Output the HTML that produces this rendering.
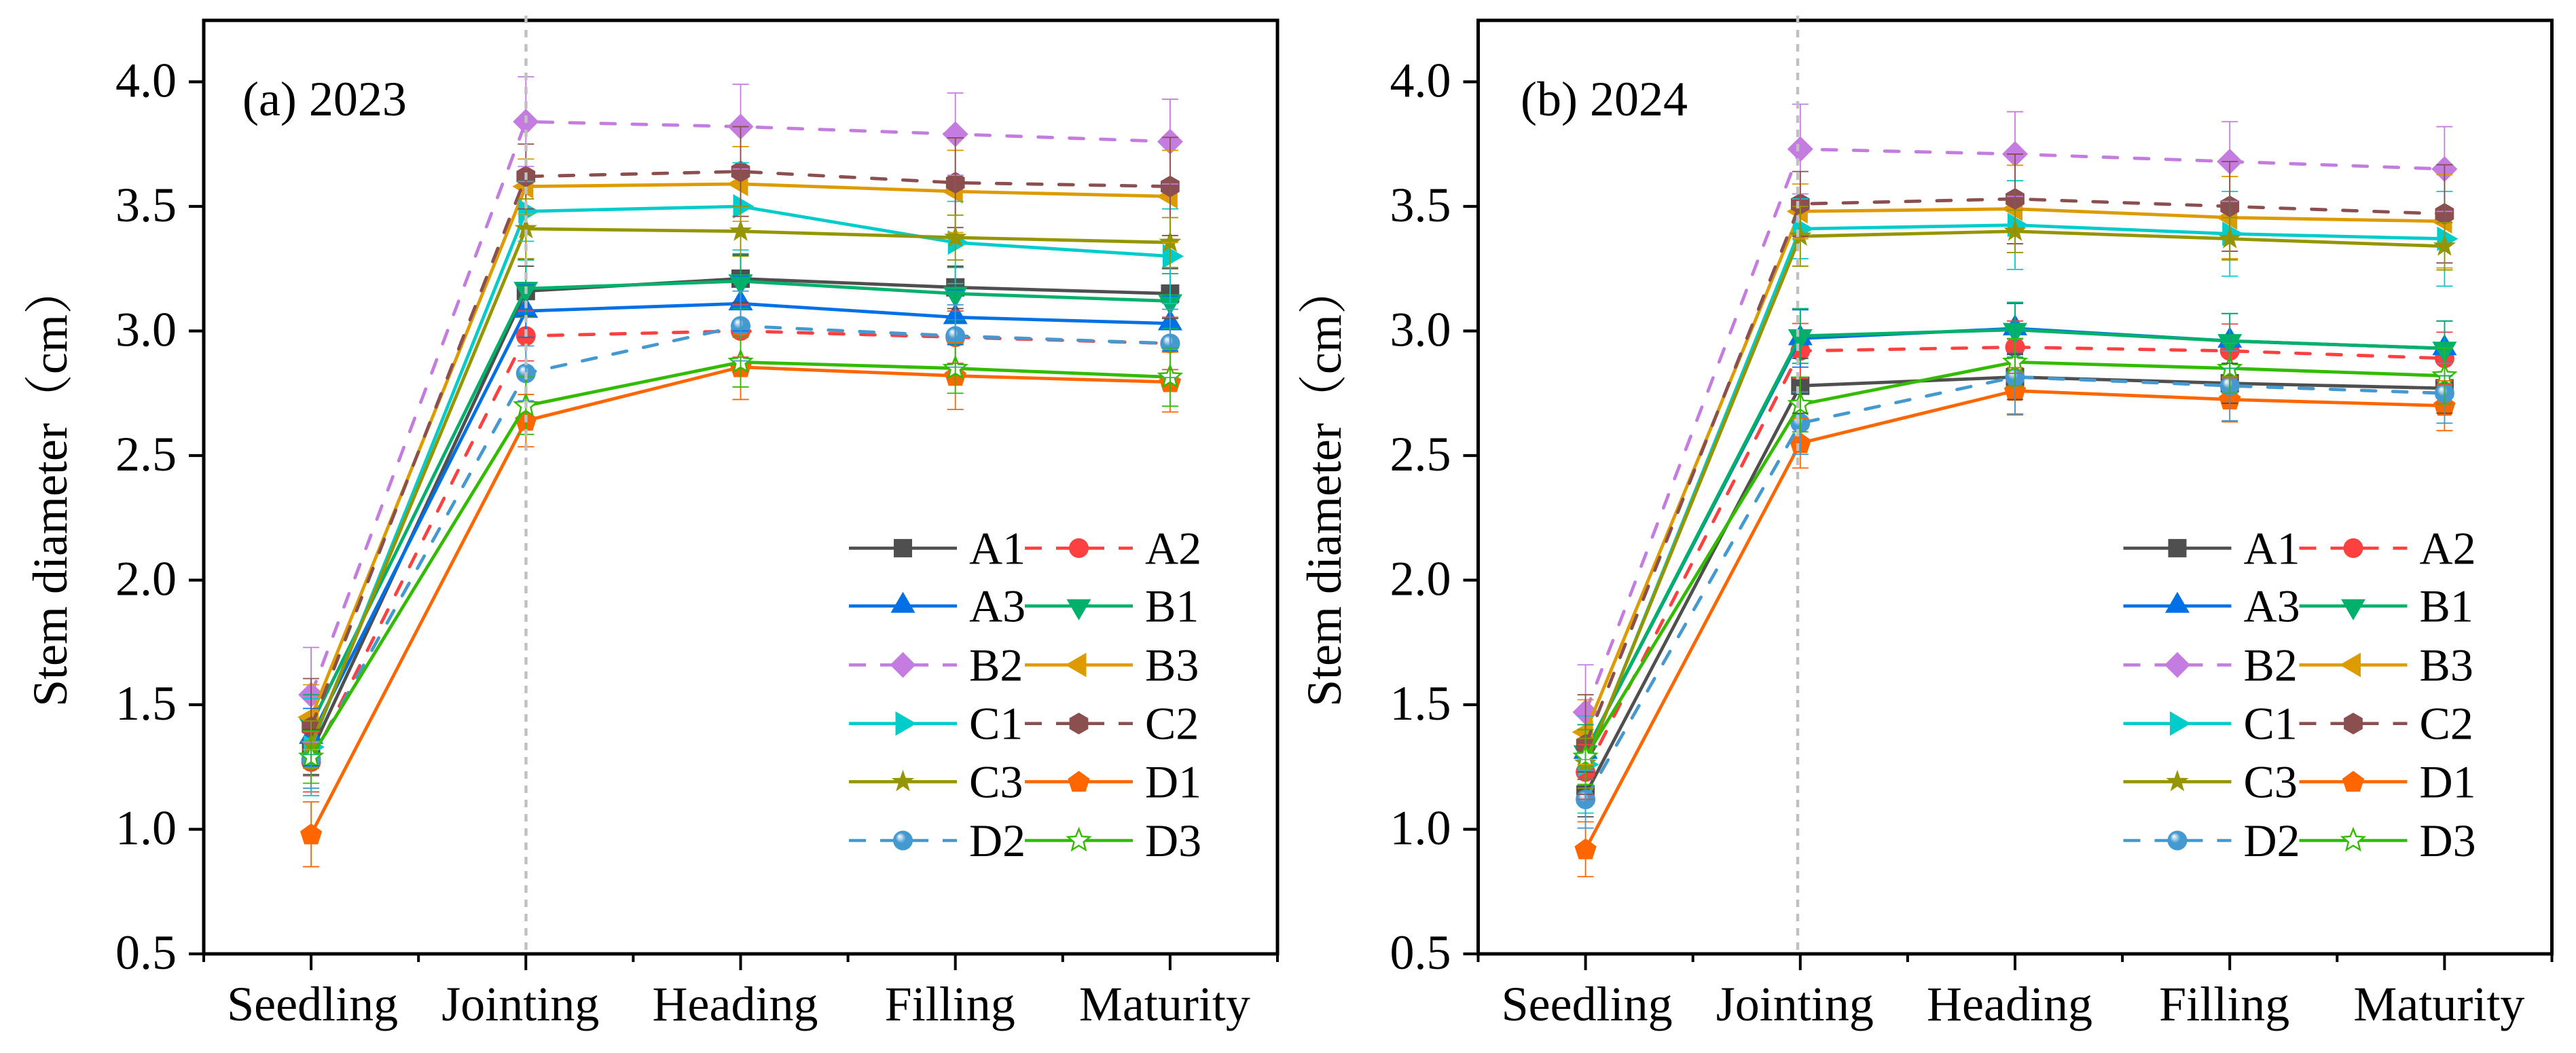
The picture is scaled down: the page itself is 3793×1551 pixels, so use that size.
<!DOCTYPE html>
<html lang="en">
<head>
<meta charset="utf-8">
<title>Stem diameter by growth stage, 2023 and 2024</title>
<style>
html,body{margin:0;padding:0;background:#fff;width:3793px;height:1551px;overflow:hidden}
svg{display:block}
text{font-family:"Liberation Serif","Noto Serif CJK SC",serif;fill:#000}
</style>
</head>
<body>
<svg id="chart" xmlns="http://www.w3.org/2000/svg" width="3793" height="1551" viewBox="0 0 3793 1551">
<defs>
<radialGradient id="sphere" cx="0.5" cy="0.5" r="0.62" fx="0.32" fy="0.28">
<stop offset="0" stop-color="#ffffff"/>
<stop offset="0.16" stop-color="#bcd9ee"/>
<stop offset="0.42" stop-color="#4499d0"/>
<stop offset="1" stop-color="#4499d0"/>
</radialGradient>
</defs>
<rect x="0" y="0" width="3793" height="1551" fill="#fff"/>
<g id="panel-a">
<text x="357" y="170" font-size="72">(a) 2023</text>
<text transform="translate(98,1041) rotate(-90)" font-size="72">Stem diameter<tspan>（cm）</tspan></text>
</g>
<g id="panel-b">
<text x="2239" y="170" font-size="72">(b) 2024</text>
<text transform="translate(1974,1041) rotate(-90)" font-size="72">Stem diameter<tspan>（cm）</tspan></text>
</g>
</svg>
<script>
const categories = ['Seedling', 'Jointing', 'Heading', 'Filling', 'Maturity'];
const yTickLabels = ['0.5', '1.0', '1.5', '2.0', '2.5', '3.0', '3.5', '4.0'];
const seriesNames = ['A1', 'A2', 'A3', 'B1', 'B2', 'B3', 'C1', 'C2', 'C3', 'D1', 'D2', 'D3'];

const a1Means2023 = [1.31, 3.16, 3.21, 3.175, 3.15];
const a1Errors2023 = [0.09, 0.10, 0.095, 0.085, 0.10];
const a2Means2023 = [1.27, 2.98, 3.00, 2.975, 2.95];
const a2Errors2023 = [0.12, 0.10, 0.105, 0.105, 0.105];
const a3Means2023 = [1.37, 3.08, 3.11, 3.055, 3.03];
const a3Errors2023 = [0.115, 0.105, 0.11, 0.11, 0.11];
const b1Means2023 = [1.42, 3.17, 3.20, 3.15, 3.12];
const b1Errors2023 = [0.12, 0.115, 0.11, 0.105, 0.11];
const b2Means2023 = [1.54, 3.84, 3.82, 3.79, 3.76];
const b2Errors2023 = [0.19, 0.18, 0.17, 0.165, 0.17];
const b3Means2023 = [1.45, 3.58, 3.59, 3.56, 3.54];
const b3Errors2023 = [0.13, 0.11, 0.15, 0.165, 0.185];
const c1Means2023 = [1.33, 3.48, 3.50, 3.355, 3.30];
const c1Errors2023 = [0.195, 0.12, 0.175, 0.165, 0.19];
const c2Means2023 = [1.41, 3.62, 3.64, 3.595, 3.58];
const c2Errors2023 = [0.195, 0.13, 0.18, 0.18, 0.197];
const c3Means2023 = [1.34, 3.41, 3.40, 3.375, 3.355];
const c3Errors2023 = [0.095, 0.12, 0.10, 0.09, 0.10];
const d1Means2023 = [0.98, 2.64, 2.855, 2.82, 2.795];
const d1Errors2023 = [0.13, 0.105, 0.13, 0.135, 0.12];
const d2Means2023 = [1.28, 2.83, 3.02, 2.98, 2.95];
const d2Errors2023 = [0.115, 0.11, 0.14, 0.125, 0.137];
const d3Means2023 = [1.29, 2.70, 2.875, 2.85, 2.815];
const d3Errors2023 = [0.105, 0.115, 0.10, 0.10, 0.117];

const a1Means2024 = [1.14, 2.78, 2.815, 2.79, 2.77];
const a1Errors2024 = [0.09, 0.11, 0.09, 0.08, 0.10];
const a2Means2024 = [1.23, 2.92, 2.935, 2.92, 2.89];
const a2Errors2024 = [0.11, 0.11, 0.105, 0.108, 0.105];
const a3Means2024 = [1.31, 2.97, 3.01, 2.96, 2.93];
const a3Errors2024 = [0.11, 0.115, 0.10, 0.11, 0.11];
const b1Means2024 = [1.31, 2.98, 3.005, 2.96, 2.93];
const b1Errors2024 = [0.11, 0.11, 0.11, 0.11, 0.11];
const b2Means2024 = [1.47, 3.73, 3.71, 3.68, 3.65];
const b2Errors2024 = [0.19, 0.18, 0.17, 0.16, 0.17];
const b3Means2024 = [1.39, 3.48, 3.49, 3.455, 3.44];
const b3Errors2024 = [0.13, 0.11, 0.175, 0.165, 0.187];
const c1Means2024 = [1.26, 3.41, 3.425, 3.39, 3.37];
const c1Errors2024 = [0.195, 0.12, 0.178, 0.17, 0.19];
const c2Means2024 = [1.34, 3.51, 3.53, 3.50, 3.47];
const c2Errors2024 = [0.20, 0.13, 0.18, 0.18, 0.197];
const c3Means2024 = [1.265, 3.38, 3.40, 3.37, 3.34];
const c3Errors2024 = [0.10, 0.12, 0.085, 0.085, 0.095];
const d1Means2024 = [0.92, 2.55, 2.76, 2.725, 2.70];
const d1Errors2024 = [0.11, 0.10, 0.093, 0.09, 0.10];
const d2Means2024 = [1.12, 2.63, 2.815, 2.78, 2.75];
const d2Errors2024 = [0.115, 0.125, 0.152, 0.14, 0.12];
const d3Means2024 = [1.29, 2.705, 2.875, 2.85, 2.82];
const d3Errors2024 = [0.11, 0.11, 0.095, 0.10, 0.112];

const means2023 = [a1Means2023, a2Means2023, a3Means2023, b1Means2023, b2Means2023, b3Means2023, c1Means2023, c2Means2023, c3Means2023, d1Means2023, d2Means2023, d3Means2023];
const errors2023 = [a1Errors2023, a2Errors2023, a3Errors2023, b1Errors2023, b2Errors2023, b3Errors2023, c1Errors2023, c2Errors2023, c3Errors2023, d1Errors2023, d2Errors2023, d3Errors2023];
const means2024 = [a1Means2024, a2Means2024, a3Means2024, b1Means2024, b2Means2024, b3Means2024, c1Means2024, c2Means2024, c3Means2024, d1Means2024, d2Means2024, d3Means2024];
const errors2024 = [a1Errors2024, a2Errors2024, a3Errors2024, b1Errors2024, b2Errors2024, b3Errors2024, c1Errors2024, c2Errors2024, c3Errors2024, d1Errors2024, d2Errors2024, d3Errors2024];

const seriesColors = ['#4f4f4f', '#ff4040', '#0070e6', '#00b06b', '#c47ce0', '#dd9b00', '#00cccc', '#8b4f50', '#959500', '#ff6600', '#4499d0', '#33bb00'];
const seriesDashed = [false, true, false, false, true, false, false, true, false, false, true, false];
const seriesMarkers = ['square', 'circle', 'up', 'down', 'diamond', 'left', 'right', 'hexagon', 'star', 'pentagon', 'sphere', 'openstar'];

const SVG_NS = 'http://www.w3.org/2000/svg';
const PLOT_TOP = 30;
const PLOT_BOTTOM = 1405;
const PLOT_WIDTH = 1581;
const CATEGORY_STEP = 316.2;
const Y_MIN = 0.5;
const PX_PER_UNIT = 367;

function make(tag, attrs, parent) {
  const node = document.createElementNS(SVG_NS, tag);
  for (const key in attrs) node.setAttribute(key, attrs[key]);
  parent.appendChild(node);
  return node;
}
function yScale(value) { return PLOT_BOTTOM - (value - Y_MIN) * PX_PER_UNIT; }
function xScale(left, index) { return left + CATEGORY_STEP / 2 + index * CATEGORY_STEP; }

function regularPoints(cx, cy, radius, count, startDeg) {
  const pts = [];
  for (let k = 0; k < count; k++) {
    const a = (startDeg + k * 360 / count) * Math.PI / 180;
    pts.push((cx + radius * Math.cos(a)).toFixed(2) + ',' + (cy + radius * Math.sin(a)).toFixed(2));
  }
  return pts.join(' ');
}
function starPoints(cx, cy, outer, inner) {
  const pts = [];
  for (let k = 0; k < 10; k++) {
    const a = (-90 + k * 36) * Math.PI / 180;
    const r = k % 2 ? inner : outer;
    pts.push((cx + r * Math.cos(a)).toFixed(2) + ',' + (cy + r * Math.sin(a)).toFixed(2));
  }
  return pts.join(' ');
}
function offsetPoints(cx, cy, offsets) {
  return offsets.map(function (p) { return (cx + p[0]) + ',' + (cy + p[1]); }).join(' ');
}
function drawMarker(kind, cx, cy, color, parent) {
  if (kind === 'square') return make('rect', { x: cx - 13.5, y: cy - 13.5, width: 27, height: 27, fill: color }, parent);
  if (kind === 'circle') return make('circle', { cx: cx, cy: cy, r: 14.5, fill: color }, parent);
  if (kind === 'sphere') return make('circle', { cx: cx, cy: cy, r: 14.5, fill: 'url(#sphere)' }, parent);
  if (kind === 'up') return make('polygon', { points: offsetPoints(cx, cy, [[0, -21], [18, 10], [-18, 10]]), fill: color }, parent);
  if (kind === 'down') return make('polygon', { points: offsetPoints(cx, cy, [[0, 21], [18, -10], [-18, -10]]), fill: color }, parent);
  if (kind === 'left') return make('polygon', { points: offsetPoints(cx, cy, [[-20, 0], [11, -18], [11, 18]]), fill: color }, parent);
  if (kind === 'right') return make('polygon', { points: offsetPoints(cx, cy, [[20, 0], [-11, -18], [-11, 18]]), fill: color }, parent);
  if (kind === 'diamond') return make('polygon', { points: offsetPoints(cx, cy, [[0, -19], [19, 0], [0, 19], [-19, 0]]), fill: color }, parent);
  if (kind === 'hexagon') return make('polygon', { points: regularPoints(cx, cy, 16, 6, -90), fill: color }, parent);
  if (kind === 'pentagon') return make('polygon', { points: regularPoints(cx, cy + 1, 17, 5, -90), fill: color }, parent);
  if (kind === 'star') return make('polygon', { points: starPoints(cx, cy, 17.5, 7), fill: color }, parent);
  return make('polygon', { points: starPoints(cx, cy, 17, 7.5), fill: '#fff', stroke: color, 'stroke-width': 2.4 }, parent);
}

function drawAxes(group, left) {
  const frame = make('rect', { x: left, y: PLOT_TOP, width: PLOT_WIDTH, height: PLOT_BOTTOM - PLOT_TOP, fill: 'none', stroke: '#000', 'stroke-width': 5 }, group);
  
  
  yTickLabels.forEach(function (label) {
    const y = yScale(parseFloat(label));
    const tick = make('line', { x1: left - 22, x2: left, y1: y, y2: y, stroke: '#000', 'stroke-width': 4.2 }, group);
    
    
    const text = make('text', { x: left - 40, y: y + 22, 'font-size': 72, 'text-anchor': 'end' }, group);
    
    
    text.textContent = label;
  });
  categories.forEach(function (label, i) {
    const x = xScale(left, i);
    const tick = make('line', { x1: x, x2: x, y1: PLOT_BOTTOM, y2: PLOT_BOTTOM + 24, stroke: '#000', 'stroke-width': 4 }, group);
    
    
    const nudge = i === 0 ? 2 : -8;
    const text = make('text', { x: x + nudge, y: 1503, 'font-size': 72, 'text-anchor': 'middle' }, group);
    
    
    text.textContent = label;
  });
  for (let k = 0; k <= categories.length; k++) {
    const x = left + k * CATEGORY_STEP;
    const minor = make('line', { x1: x, x2: x, y1: PLOT_BOTTOM, y2: PLOT_BOTTOM + 12, stroke: '#000', 'stroke-width': 4 }, group);
    
    
  }
}

function drawSeries(group, left, means) {
  means.forEach(function (values, s) {
    const color = seriesColors[s];
    const pts = values.map(function (v, i) { return xScale(left, i).toFixed(2) + ',' + yScale(v).toFixed(2); }).join(' ');
    const attrs = { points: pts, fill: 'none', stroke: color, 'stroke-width': 4.8, 'stroke-linejoin': 'round' };
    if (seriesDashed[s]) { attrs['stroke-dasharray'] = '21 25'; attrs['stroke-linecap'] = 'round'; }
    const line = make('polyline', attrs, group);
    
    
    values.forEach(function (v, i) {
      const marker = drawMarker(seriesMarkers[s], xScale(left, i), yScale(v), color, group);
      
      
    });
  });
}

function drawErrorBars(group, left, means, errors) {
  means.forEach(function (values, s) {
    const color = seriesColors[s];
    values.forEach(function (v, i) {
      const x = xScale(left, i);
      const hi = yScale(v + errors[s][i]);
      const lo = yScale(v - errors[s][i]);
      const stem = make('line', { x1: x, x2: x, y1: hi, y2: lo, stroke: color, 'stroke-width': 1.8 }, group);
      
      
      const capTop = make('line', { x1: x - 12, x2: x + 12, y1: hi, y2: hi, stroke: color, 'stroke-width': 1.8 }, group);
      
      
      const capLow = make('line', { x1: x - 12, x2: x + 12, y1: lo, y2: lo, stroke: color, 'stroke-width': 1.8 }, group);
      
      
    });
  });
}

function drawGuide(group, x) {
  const guide = make('line', { x1: x, x2: x, y1: 23, y2: PLOT_BOTTOM, stroke: '#c0c0c0', 'stroke-width': 4.4, 'stroke-dasharray': '11 10' }, group);
  
  
}

function drawLegend(group, left) {
  const rowYs = [807.4, 892.6, 979.4, 1065.7, 1151.4, 1238];
  seriesNames.forEach(function (name, s) {
    const col = s % 2;
    const rowY = rowYs[Math.floor(s / 2)];
    const x0 = left + (col === 0 ? 950 : 1209);
    const entry = make('g', {}, group);
    
    
    const attrs = { x1: x0, x2: x0 + 159, y1: rowY, y2: rowY, stroke: seriesColors[s], 'stroke-width': 4.6 };
    if (seriesDashed[s]) { attrs['stroke-dasharray'] = '25 21 25 21 25 21 25'; }
    const sample = make('line', attrs, entry);
    
    
    const marker = drawMarker(seriesMarkers[s], x0 + 79.5, rowY, seriesColors[s], entry);
    
    
    const label = make('text', { x: x0 + 177, y: rowY + 23, 'font-size': 68 }, entry);
    
    
    label.textContent = name;
  });
}

function drawPanel(groupId, left, guideX, means, errors) {
  const group = document.getElementById(groupId);
  drawSeries(group, left, means);
  drawErrorBars(group, left, means, errors);
  drawAxes(group, left);
  drawGuide(group, guideX);
  drawLegend(group, left);
}

drawPanel('panel-a', 300, 774.5, means2023, errors2023);
drawPanel('panel-b', 2176.5, 2647, means2024, errors2024);
</script>
</body>
</html>
